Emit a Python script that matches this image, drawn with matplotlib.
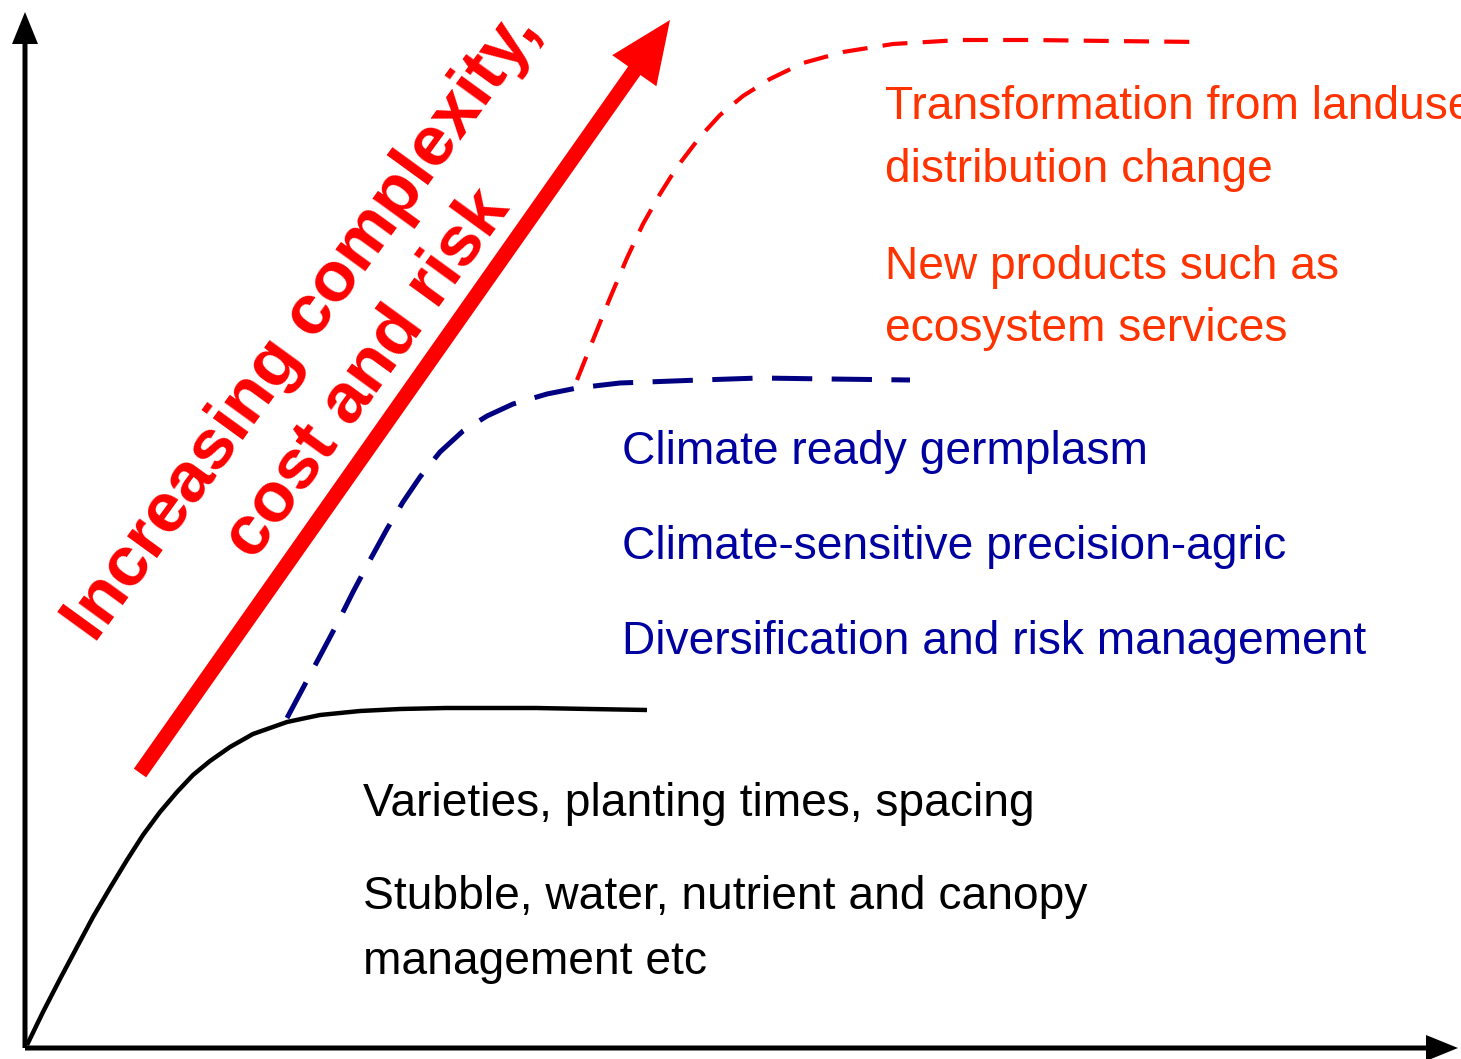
import matplotlib
matplotlib.use("Agg")
from matplotlib import pyplot as plt

# conceptual curves (x right, y down, image pixels)
base_x = [27, 43, 60, 77, 93, 110, 127, 143, 160, 177, 193, 210, 230, 253, 287, 320, 360, 400, 446, 490, 536, 590, 647]
base_y = [1045, 1012, 979, 947, 917, 888, 860, 835, 812, 792, 775, 761, 747, 734, 722, 715, 711, 709, 708, 708, 708, 709, 710]

adapt_x = [287, 303, 320, 337, 353, 370, 387, 403, 420, 440, 463, 487, 513, 547, 577, 620, 700, 760, 830, 910]
adapt_y = [718, 688, 656, 624, 592, 560, 529, 502, 477, 452, 431, 416, 404, 394, 388, 383, 380, 378, 379, 380]

trans_x = [577, 593, 610, 627, 643, 660, 677, 700, 720, 743, 770, 803, 843, 893, 960, 1031, 1110, 1201]
trans_y = [380, 340, 298, 258, 224, 194, 167, 137, 115, 96, 79, 63, 52, 44, 40, 40, 41, 42]

black_labels = ["Varieties, planting times, spacing",
                "Stubble, water, nutrient and canopy",
                "management etc"]
black_label_y = [804, 897, 962]

blue_labels = ["Climate ready germplasm",
               "Climate-sensitive precision-agric",
               "Diversification and risk management"]
blue_label_y = [452, 547, 642]

red_labels = ["Transformation from landuse",
              "distribution change",
              "New products such as",
              "ecosystem services"]
red_label_y = [107, 170, 267, 329]

arrow_title = ["Increasing complexity,", "cost and risk"]
arrow_title_xy = [(303, 327), (368, 374)]

plt.rcParams['lines.scale_dashes'] = False
sans = ['Liberation Sans', 'DejaVu Sans']

fig = plt.figure(figsize=(14.61, 10.59), dpi=100)
ax = fig.add_axes([0, 0, 1, 1])
ax.set_xlim(0, 1461)
ax.set_ylim(1059, 0)
ax.axis('off')

# axes arrows
ax.arrow(25, 1048, 0, -1036, width=5, head_width=26, head_length=32,
         length_includes_head=True, color='black', lw=0)
ax.arrow(25, 1048, 1433, 0, width=5, head_width=26, head_length=32,
         length_includes_head=True, color='black', lw=0)

# curves
ax.plot(base_x, base_y, color='black', lw=3.2, solid_capstyle='butt', solid_joinstyle='round')
ax.plot(adapt_x, adapt_y, color='#000080', lw=3.6, dashes=(29, 14))
ax.plot(trans_x, trans_y, color='#ff0000', lw=3, dashes=(18, 11))

# big red arrow
ax.arrow(140, 773, 530, -753, width=15, head_width=54, head_length=62,
         length_includes_head=True, color='#ff0000', lw=0)

for lab, (x, y) in zip(arrow_title, arrow_title_xy):
    ax.text(x, y, lab, rotation=54, rotation_mode='anchor',
            ha='center', va='center', fontsize=51, fontweight='bold',
            color='#ff0000', family=sans)

for lab, y in zip(black_labels, black_label_y):
    ax.text(363, y, lab, ha='left', va='center', fontsize=33.2, color='black', family=sans)
for lab, y in zip(blue_labels, blue_label_y):
    ax.text(622, y, lab, ha='left', va='center', fontsize=33.2, color='#0000a0', family=sans)
for lab, y in zip(red_labels, red_label_y):
    ax.text(885, y, lab, ha='left', va='center', fontsize=33.2, color='#ff3300', family=sans)

fig.savefig('out.png', dpi=100)
